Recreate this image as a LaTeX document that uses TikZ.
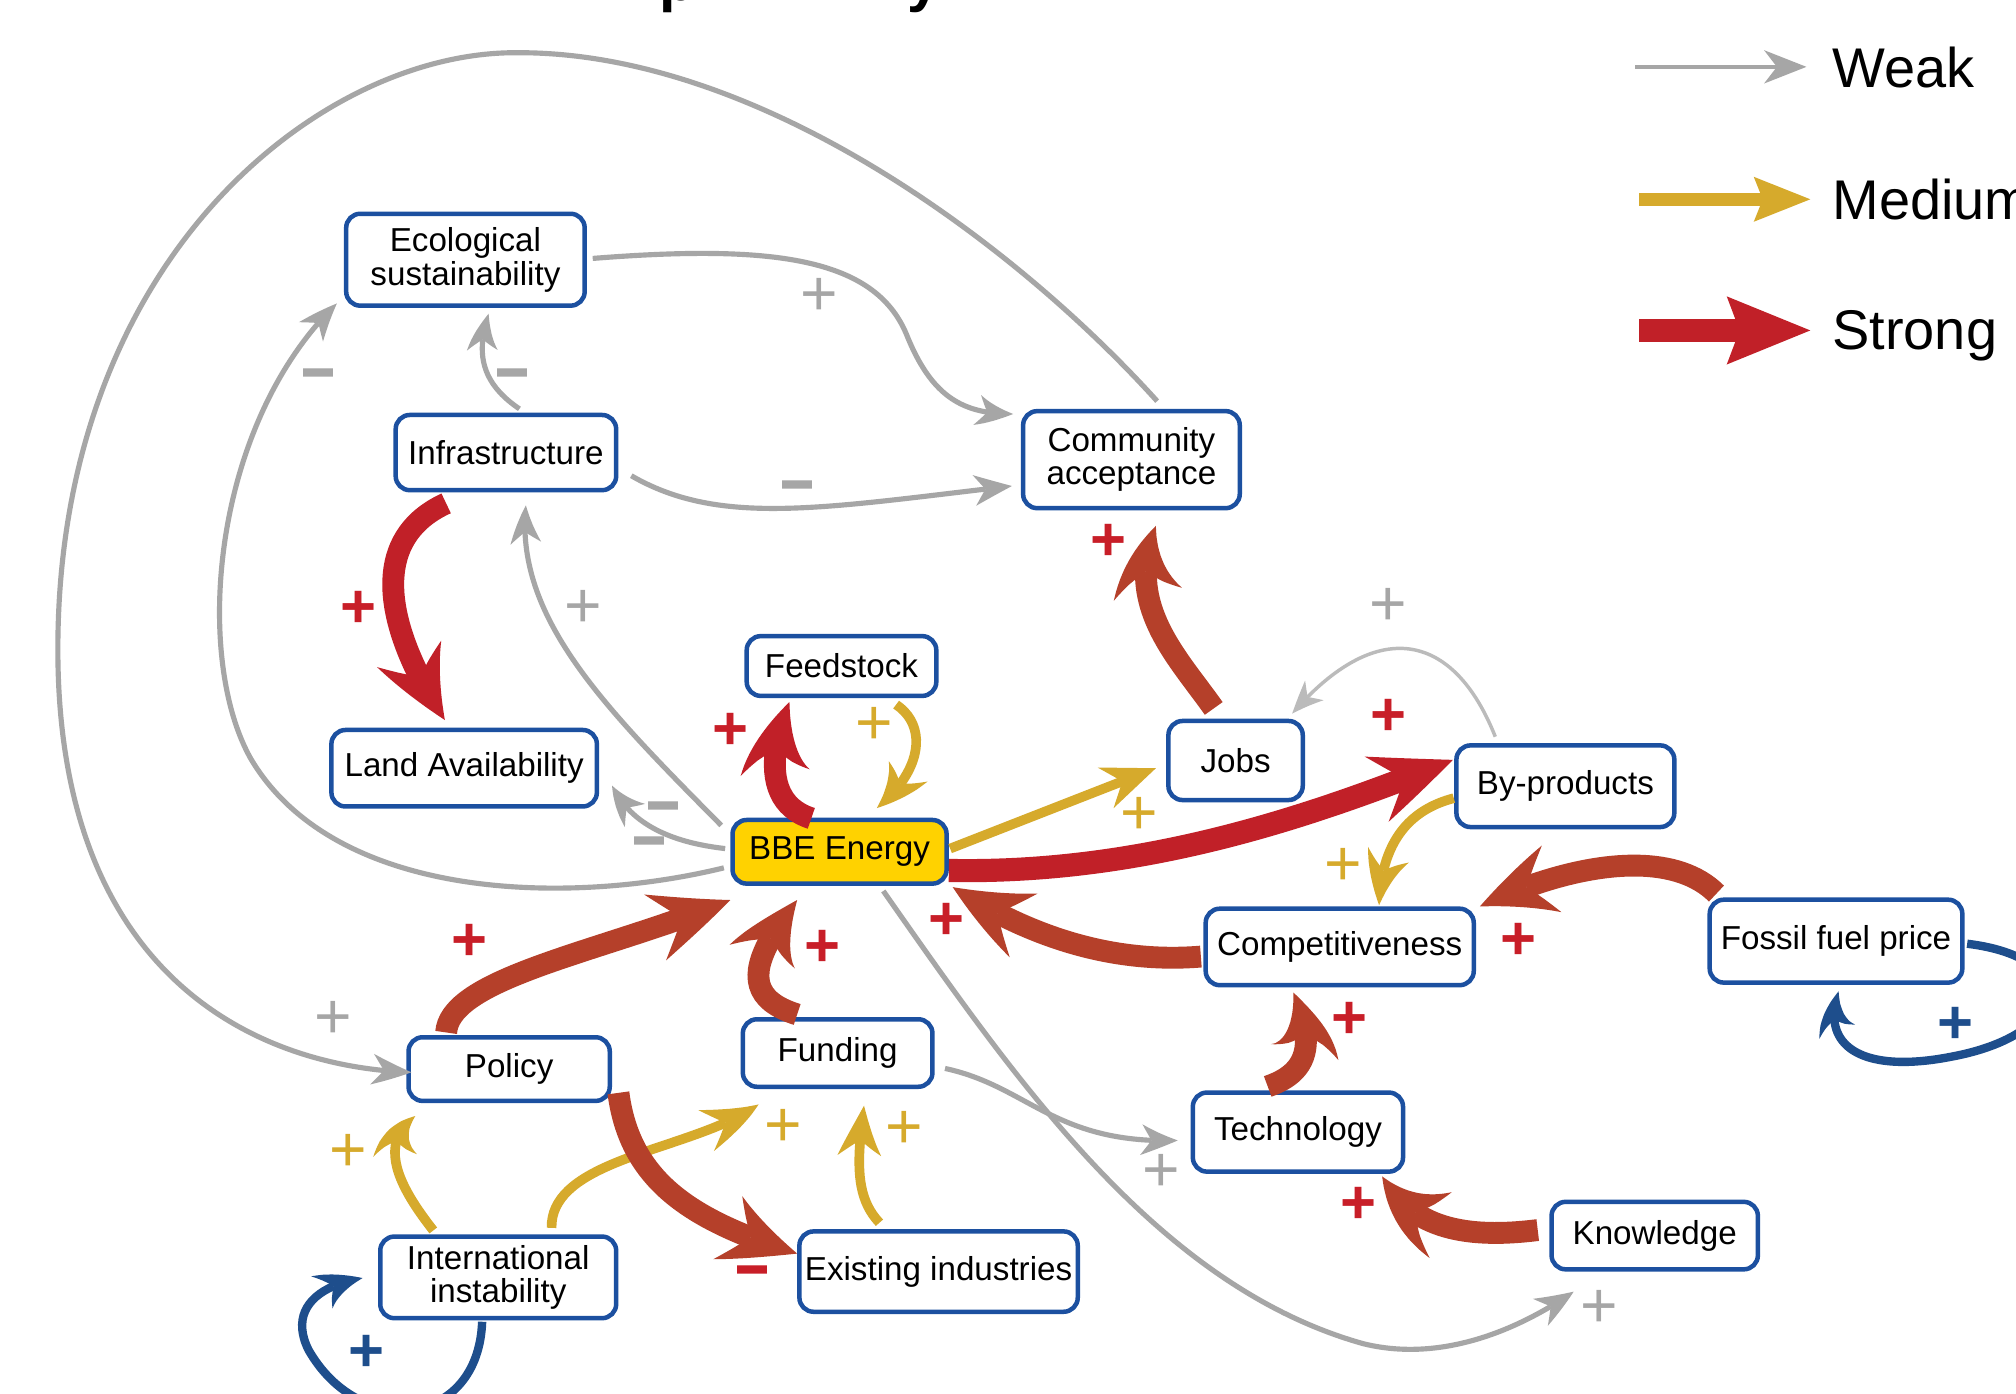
\documentclass[tikz,border=0pt]{standalone}
\usepackage{fontspec}
\setmainfont{Liberation Sans}
\usetikzlibrary{arrows.meta,bending}
\definecolor{nodeblue}{RGB}{28,80,160}
\definecolor{bbeyellow}{RGB}{255,210,0}
\definecolor{weakgray}{RGB}{166,166,166}
\definecolor{paleweak}{RGB}{187,187,187}
\definecolor{medgold}{RGB}{214,170,44}
\definecolor{strongred}{RGB}{193,32,40}
\definecolor{rust}{RGB}{181,64,42}
\definecolor{loopblue}{RGB}{30,78,140}
\definecolor{plusred}{RGB}{200,30,40}
\newcommand{\ndfont}{\fontsize{25.8}{26}\selectfont}
\newcommand{\lgfont}{\fontsize{43.5}{44}\selectfont}
\newcommand{\mns}{\scalebox{1}[2.3]{\textendash}}
\begin{document}
\begin{tikzpicture}[x=1pt,y=-1pt,
  box/.style={draw=nodeblue, line width=3.5pt, rounded corners=11pt, fill=white, inner sep=0pt, align=center, font=\ndfont},
  weakarr/.style={draw=weakgray, line width=4pt, -{Stealth[length=30pt,width=24pt,inset=9pt,line width=0pt,bend]}},
  paleweakarr/.style={draw=paleweak, line width=2.7pt, -{Stealth[length=26pt,width=21pt,inset=8pt,line width=0pt,bend]}},
  medarr/.style={draw=medgold, line width=7.5pt, -{Stealth[length=42pt,width=34pt,inset=14pt,line width=0pt,bend]}},
  strongarr/.style={line width=17pt, -{Stealth[length=62pt,width=54pt,inset=22pt,line width=0pt,bend]}},
  bluearr/.style={draw=loopblue, line width=6.5pt, -{Stealth[length=38pt,width=30pt,inset=13pt,line width=0pt,bend]}},
  pg/.style={inner sep=0pt, text=weakgray, font=\fontsize{50}{50}\selectfont, yshift=-2.9pt},
  pgd/.style={inner sep=0pt, text=medgold, font=\fontsize{50}{50}\selectfont, yshift=-2.9pt},
  pr/.style={inner sep=0pt, text=plusred, font=\fontsize{48}{48}\selectfont\bfseries, yshift=-2.9pt},
  pb/.style={inner sep=0pt, text=loopblue, font=\fontsize{48}{48}\selectfont\bfseries, yshift=-2.9pt},
  mg/.style={inner sep=0pt, text=weakgray, font=\fontsize{42}{42}\selectfont, anchor=base, yshift=-26.6pt},
  mr/.style={inner sep=0pt, text=plusred, font=\fontsize{42}{42}\selectfont, anchor=base, yshift=-26.6pt},
  legtext/.style={anchor=base west, inner sep=0pt, font=\lgfont}
]
\useasboundingbox (0,0) rectangle (1568,1084);
\fill[white] (0,0) rectangle (1568,1084);

% title fragments (cut by the top edge)
\node[anchor=base west, inner sep=0pt, font=\fontsize{46}{46}\selectfont\bfseries] (ttlp) at (513,0.5) {p};
\node[anchor=base west, inner sep=0pt, font=\fontsize{46}{46}\selectfont\bfseries] (ttly) at (706,0.5) {y};

% nodes
\node[box, minimum width=185.5pt, minimum height=71.5pt] (eco) at (362,202) {Ecological\\sustainability};
\node[box, minimum width=171.5pt, minimum height=58.5pt] (inf) at (393.5,352) {Infrastructure};
\node[box, minimum width=168.5pt, minimum height=75.5pt] (comm) at (880,357.5) {Community\\acceptance};
\node[box, minimum width=147.5pt, minimum height=46.5pt] (feed) at (654.5,518) {Feedstock};
\node[box, minimum width=206.5pt, minimum height=59.5pt] (land) at (361,597.5) {Land Availability};
\node[box, fill=bbeyellow, minimum width=166.5pt, minimum height=49.5pt] (bbe) at (653,662.5) {BBE Energy};
\node[box, minimum width=104.5pt, minimum height=61.5pt] (jobs) at (961,591.5) {Jobs};
\node[box, minimum width=169.5pt, minimum height=63.5pt] (byp) at (1217.5,611.5) {By-products};
\node[box, minimum width=208.5pt, minimum height=59.5pt] (comp) at (1042,736.5) {Competitiveness};
\node[box, minimum width=196.5pt, minimum height=64.5pt] (fos) at (1428,732) {Fossil fuel price};
\node[box, minimum width=156.5pt, minimum height=49.5pt] (pol) at (396,831.5) {Policy};
\node[box, minimum width=147.5pt, minimum height=52.5pt] (fund) at (651.5,819) {Funding};
\node[box, minimum width=163.5pt, minimum height=61.5pt] (tech) at (1009.5,880.5) {Technology};
\node[box, minimum width=183.5pt, minimum height=63.5pt] (intl) at (387.5,993.5) {International\\instability};
\node[box, minimum width=216.5pt, minimum height=62.5pt] (exist) at (730,989) {Existing industries};
\node[box, minimum width=160.5pt, minimum height=52.5pt] (know) at (1287,961) {Knowledge};

% weak connectors
\draw[weakarr] ([shift={(20,-45.5)}]comm.center) .. controls (790,190) and (590,40) .. (402,41)
   .. controls (250,40) and (45,200) .. (45,505)
   .. controls (45,760) and (200,830) .. ([shift={(-76,2.5)}]pol.center);
\draw[weakarr] ([shift={(99,-1)}]eco.center) .. controls (600,190) and (680,200) .. (705,260)
   .. controls (725,310) and (750,322) .. ([shift={(-92,-35.5)}]comm.center);
\draw[weakarr] ([shift={(10.5,-34)}]inf.center) .. controls (370,295) and (372,270) .. ([shift={(18,42)}]eco.center);
\draw[weakarr] ([shift={(97.5,18)}]inf.center) .. controls (560,410) and (640,395) .. ([shift={(-93,20.5)}]comm.center);
\draw[weakarr] ([shift={(-90,12.5)}]bbe.center) .. controls (440,705) and (260,700) .. (195,590)
   .. controls (150,510) and (165,330) .. ([shift={(-100,34)}]eco.center);
\draw[weakarr] ([shift={(-92,-20.5)}]bbe.center) .. controls (470,550) and (400,480) .. ([shift={(15.5,41)}]inf.center);
\draw[weakarr] ([shift={(-89,-2.5)}]bbe.center) .. controls (520,655) and (490,640) .. ([shift={(115,13.5)}]land.center);
\draw[paleweakarr] ([shift={(-54.5,-38.5)}]byp.center) .. controls (1130,490) and (1070,480) .. ([shift={(44,-36.5)}]jobs.center);
\draw[weakarr] ([shift={(34,30.5)}]bbe.center) .. controls (790,840) and (900,1000) .. (1060,1045)
   .. controls (1120,1060) and (1180,1035) .. ([shift={(-63,43.6)}]know.center);
\draw[weakarr] ([shift={(83.5,12)}]fund.center) .. controls (800,845) and (820,890) .. ([shift={(-93.5,6.5)}]tech.center);

% medium connectors
\draw[medarr] ([shift={(86,-2.5)}]bbe.center) -- ([shift={(-62,6)}]jobs.center);
\draw[medarr] ([shift={(42.5,30)}]feed.center) .. controls (722,565) and (717,600) .. ([shift={(29,-34)}]bbe.center);
\draw[medarr] ([shift={(-86.8,9.3)}]byp.center) .. controls (1088,632) and (1074,665) .. ([shift={(30.6,-32.5)}]comp.center);
\draw[medarr] ([shift={(-50.5,-36.5)}]intl.center) .. controls (312,925) and (292,890) .. ([shift={(-73,36.5)}]pol.center);
\draw[medarr] ([shift={(41.5,-38.5)}]intl.center) .. controls (428,900) and (540,895) .. ([shift={(-61.5,40)}]fund.center);
\draw[medarr] ([shift={(-46,-38)}]exist.center) .. controls (664,930) and (667,900) .. ([shift={(20.5,41)}]fund.center);

% strong connectors
\draw[strongarr, strongred] ([shift={(-46.5,39.5)}]inf.center) .. controls (285,420) and (300,490) .. ([shift={(-15,-37.5)}]land.center);
\draw[strongarr, strongred] ([shift={(-22,-26)}]bbe.center) .. controls (595,625) and (598,585) .. ([shift={(-40.5,28)}]feed.center);
\draw[strongarr, strongred, line width=18pt] ([shift={(85,14.5)}]bbe.center) .. controls (890,680) and (1020,635) .. ([shift={(-87.5,-20.5)}]byp.center);
\draw[strongarr, rust] ([shift={(-17,-40.5)}]jobs.center) .. controls (915,510) and (874,470) .. ([shift={(19,51.5)}]comm.center);
\draw[strongarr, rust] ([shift={(-49,-28.5)}]pol.center) .. controls (350,760) and (470,740) .. ([shift={(-85,37.5)}]bbe.center);
\draw[strongarr, rust] ([shift={(-31.5,-30)}]fund.center) .. controls (575,775) and (585,745) .. ([shift={(-33,37.5)}]bbe.center);
\draw[strongarr, rust] ([shift={(-108,7.5)}]comp.center) .. controls (860,750) and (795,725) .. ([shift={(88,27.5)}]bbe.center);
\draw[strongarr, rust] ([shift={(-93,-37)}]fos.center) .. controls (1300,660) and (1225,670) .. ([shift={(109,-31.5)}]comp.center);
\draw[strongarr, rust] ([shift={(-23.5,-35.5)}]tech.center) .. controls (1015,835) and (1025,815) .. ([shift={(-36,35.5)}]comp.center);
\draw[strongarr, rust] ([shift={(-91,-4.3)}]know.center) .. controls (1130,965) and (1095,950) .. ([shift={(65.5,34.5)}]tech.center);
\draw[strongarr, rust] ([shift={(85,18.5)}]pol.center) .. controls (490,920) and (540,950) .. ([shift={(-110,-14)}]exist.center);

% self loops
\draw[bluearr] ([shift={(-12.5,34.5)}]intl.center) .. controls (372,1110) and (280,1120) .. (240,1050)
   .. controls (225,1020) and (245,1000) .. ([shift={(-105.5,0.5)}]intl.center);
\draw[bluearr] ([shift={(102,2)}]fos.center) .. controls (1620,745) and (1610,805) .. (1517,822)
   .. controls (1450,835) and (1415,815) .. ([shift={(2,39)}]fos.center);

% signs
\node[pg] (s1) at (259,790) {+};
\node[pg] (s2) at (637,228) {+};
\node[mg] (s3) at (399,288) {\mns};
\node[mg] (s4) at (248,288) {\mns};
\node[mg] (s5) at (620,375) {\mns};
\node[pg] (s6) at (454,471) {+};
\node[mg] (s7) at (516,625) {\mns};
\node[mg] (s8) at (505,652) {\mns};
\node[pg] (s9) at (1080,469) {+};
\node[pg] (s10) at (903,909) {+};
\node[pg] (s11) at (1244,1015) {+};
\node[pgd] (s12) at (886,632) {+};
\node[pgd] (s13) at (680,562) {+};
\node[pgd] (s14) at (1045,671) {+};
\node[pgd] (s15) at (271,894) {+};
\node[pgd] (s16) at (609,874) {+};
\node[pgd] (s17) at (703,876) {+};
\node[pr] (s18) at (279,471) {+};
\node[pr] (s19) at (568,566) {+};
\node[pr] (s20) at (1080,555) {+};
\node[pr] (s21) at (862,419) {+};
\node[pr] (s22) at (365,730) {+};
\node[pr] (s23) at (640,735) {+};
\node[pr] (s24) at (736,714) {+};
\node[pr] (s25) at (1181,729) {+};
\node[pr] (s26) at (1050,791) {+};
\node[pr] (s27) at (1057,935) {+};
\node[mr] (s28) at (585,986) {\mns};
\node[pb] (s29) at (285,1050) {+};
\node[pb] (s30) at (1521,795) {+};

% legend
\coordinate (lw1) at (1272,52);  \coordinate (lw2) at (1405,52);
\coordinate (lm1) at (1275,155); \coordinate (lm2) at (1408,155);
\coordinate (ls1) at (1275,257); \coordinate (ls2) at (1408,257);
\draw[draw=weakgray, line width=3.6pt, -{Stealth[length=33pt,width=26pt,inset=10pt,line width=0pt]}] (lw1) -- (lw2);
\draw[draw=medgold, line width=10pt, -{Stealth[length=44pt,width=35pt,inset=7pt,line width=0pt]}] (lm1) -- (lm2);
\draw[draw=strongred, line width=18pt, -{Stealth[length=65pt,width=53pt,inset=10pt,line width=0pt]}] (ls1) -- (ls2);
\node[legtext] (lwt) at (1425,68) {Weak};
\node[legtext] (lmt) at (1425,170.5) {Medium};
\node[legtext] (lst) at (1425,272) {Strong};
\end{tikzpicture}
\end{document}
